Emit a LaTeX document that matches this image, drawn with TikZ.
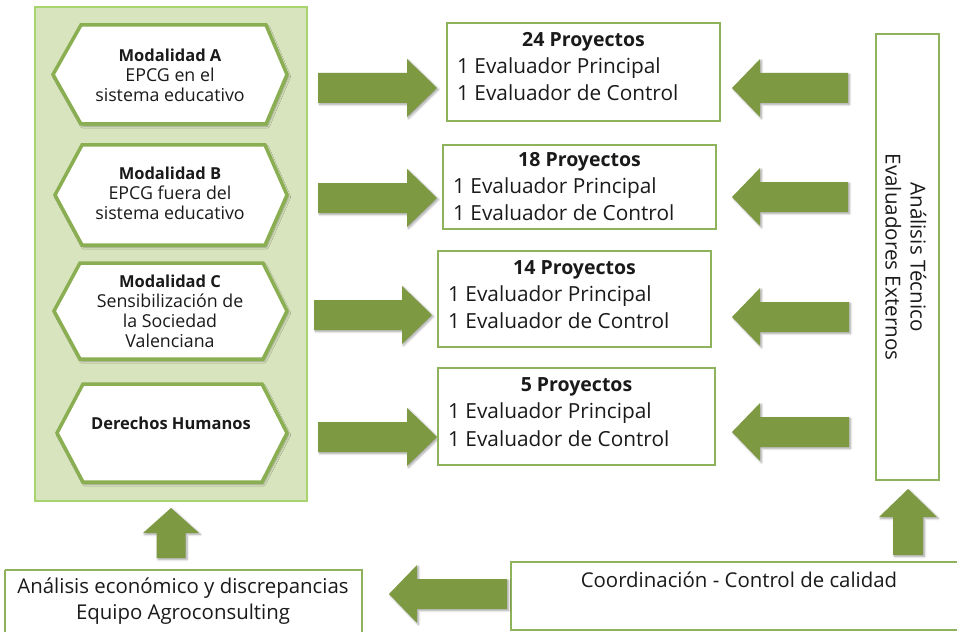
\documentclass[tikz,border=0pt]{standalone}
\usepackage{fontspec}
\setmainfont{Open Sans}
\usetikzlibrary{shadows.blur}
\definecolor{arrowfillc}{HTML}{7D9A43}
\definecolor{hexborder}{HTML}{8AAE52}
\definecolor{boxborder}{HTML}{8FB25C}
\definecolor{panelfill}{HTML}{D8E4BD}
\definecolor{panelborder}{HTML}{A8D46E}
\definecolor{txt}{HTML}{1A1A1A}
\newcommand\rblockarrow[4]{% start x, head base x, tip x, center y
  \fill[blockarrow] (#1,#4-15) -- (#2,#4-15) -- (#2,#4-29) -- (#3,#4) -- (#2,#4+29) -- (#2,#4+15) -- (#1,#4+15) -- cycle;}
\newcommand\ublockarrow[6]{% center x, tip y, head base y, end y, shaft half, head half
  \fill[blockarrow] (#1-#5,#4) -- (#1-#5,#3) -- (#1-#6,#3) -- (#1,#2) -- (#1+#6,#3) -- (#1+#5,#3) -- (#1+#5,#4) -- cycle;}
\newcommand\hexshape[6]{% left pt x, top-left x, top-right x, right pt x, top y, bottom y
  \draw[hexstyle] (#1,{(#5+#6)/2}) -- (#2,#5) -- (#3,#5) -- (#4,{(#5+#6)/2}) -- (#3,#6) -- (#2,#6) -- cycle;}
\newcommand\hexbold[1]{{\fontsize{16.5}{20}\selectfont\bfseries #1}}
\begin{document}
\begin{tikzpicture}[x=1pt,y=-1pt,
  blockarrow/.style={fill=arrowfillc, blur shadow={shadow xshift=1.5pt, shadow yshift=-1.5pt, shadow blur steps=6, shadow opacity=35}},
  hexstyle/.style={draw=hexborder, line width=3.5pt, fill=white, line join=miter, blur shadow={shadow xshift=1.5pt, shadow yshift=-2pt, shadow blur steps=6, shadow opacity=35}},
  boxstyle/.style={draw=boxborder, line width=1.3pt, fill=white},
  hextext/.style={align=center, text=txt, font=\fontsize{17.8}{20}\selectfont, inner sep=0pt},
  titletext/.style={text=txt, font=\fontsize{19.5}{25}\selectfont\bfseries, inner sep=0pt},
  bodytext/.style={anchor=west, text=txt, font=\fontsize{20.8}{25}\selectfont, inner sep=0pt},
  bottomtext/.style={align=center, text=txt, font=\fontsize{20.4}{26}\selectfont, inner sep=0pt}
]
\useasboundingbox (0,0) rectangle (957,631);

% left panel
\draw[fill=panelfill, draw=panelborder, line width=1.3pt] (35,7) rectangle (307,501);

% hexagons
\hexshape{53}{81}{266}{287}{25}{124}
\hexshape{55}{82}{265}{287}{145}{245}
\hexshape{54}{80}{263}{287}{263}{359}
\hexshape{57}{83}{262}{287}{384}{482}
\node[hextext] (ha) at (170,75) {\hexbold{Modalidad A}\\EPCG en el\\sistema educativo};
\node[hextext] (hb) at (170,193) {\hexbold{Modalidad B}\\EPCG fuera del\\sistema educativo};
\node[hextext] (hc) at (170,311.5) {\hexbold{Modalidad C}\\Sensibilización de\\la Sociedad\\Valenciana};
\node[hextext] (hd) at (171,423) {\hexbold{Derechos Humanos}};

% right arrows
\rblockarrow{318}{407}{437}{88}
\rblockarrow{318}{407}{437}{198}
\rblockarrow{314}{402}{432}{315}
\rblockarrow{318}{407}{437}{437}

% project boxes
\draw[boxstyle] (447,23) rectangle (720,121);
\draw[boxstyle] (443,145) rectangle (716,229);
\draw[boxstyle] (438,251) rectangle (711,347);
\draw[boxstyle] (438,368) rectangle (715,465);
\node[titletext] (t1) at (583.5,42) {24 Proyectos};
\node[bodytext] (b1a) at (457,68) {1 Evaluador Principal};
\node[bodytext] (b1b) at (457,93) {1 Evaluador de Control};
\node[titletext] (t2) at (579.5,162) {18 Proyectos};
\node[bodytext] (b2a) at (453,188) {1 Evaluador Principal};
\node[bodytext] (b2b) at (453,213) {1 Evaluador de Control};
\node[titletext] (t3) at (574.5,270) {14 Proyectos};
\node[bodytext] (b3a) at (448,296) {1 Evaluador Principal};
\node[bodytext] (b3b) at (448,321) {1 Evaluador de Control};
\node[titletext] (t4) at (576.5,387) {5 Proyectos};
\node[bodytext] (b4a) at (448,413) {1 Evaluador Principal};
\node[bodytext] (b4b) at (448,439) {1 Evaluador de Control};

% left arrows
\fill[blockarrow] (848,88-15) -- (760,88-15) -- (760,88-29) -- (732,88) -- (760,88+29) -- (760,88+15) -- (848,88+15) -- cycle;
\fill[blockarrow] (848,197-15) -- (760,197-15) -- (760,197-29) -- (732,197) -- (760,197+29) -- (760,197+15) -- (848,197+15) -- cycle;
\fill[blockarrow] (849,317-15) -- (760,317-15) -- (760,317-29) -- (732,317) -- (760,317+29) -- (760,317+15) -- (849,317+15) -- cycle;
\fill[blockarrow] (849,432-15) -- (760,432-15) -- (760,432-29) -- (732,432) -- (760,432+29) -- (760,432+15) -- (849,432+15) -- cycle;

% tall right box
\draw[boxstyle] (876,34) rectangle (939,480);
\node[align=center, text=txt, font=\fontsize{20.6}{25}\selectfont, inner sep=0pt, rotate=-90] (ext) at (906,257) {Análisis Técnico\\Evaluadores Externos};

% up arrows
\ublockarrow{171}{508}{533}{558}{14.5}{28}
\ublockarrow{908}{489}{517}{555}{15}{29}

% bottom boxes
\draw[boxstyle] (5,570) -- (5,634) (5,570) -- (362,570) -- (362,634);
\node[bottomtext] (eco) at (183,601) {Análisis económico y discrepancias\\Equipo Agroconsulting};
\draw[boxstyle] (511,562) rectangle (960,630);
\node[bottomtext] (coord) at (739,580) {Coordinación - Control de calidad};

% bottom left arrow
\fill[blockarrow] (507,594-15) -- (417,594-15) -- (417,594-29) -- (389,594) -- (417,594+29) -- (417,594+15) -- (507,594+15) -- cycle;
\end{tikzpicture}
\end{document}
